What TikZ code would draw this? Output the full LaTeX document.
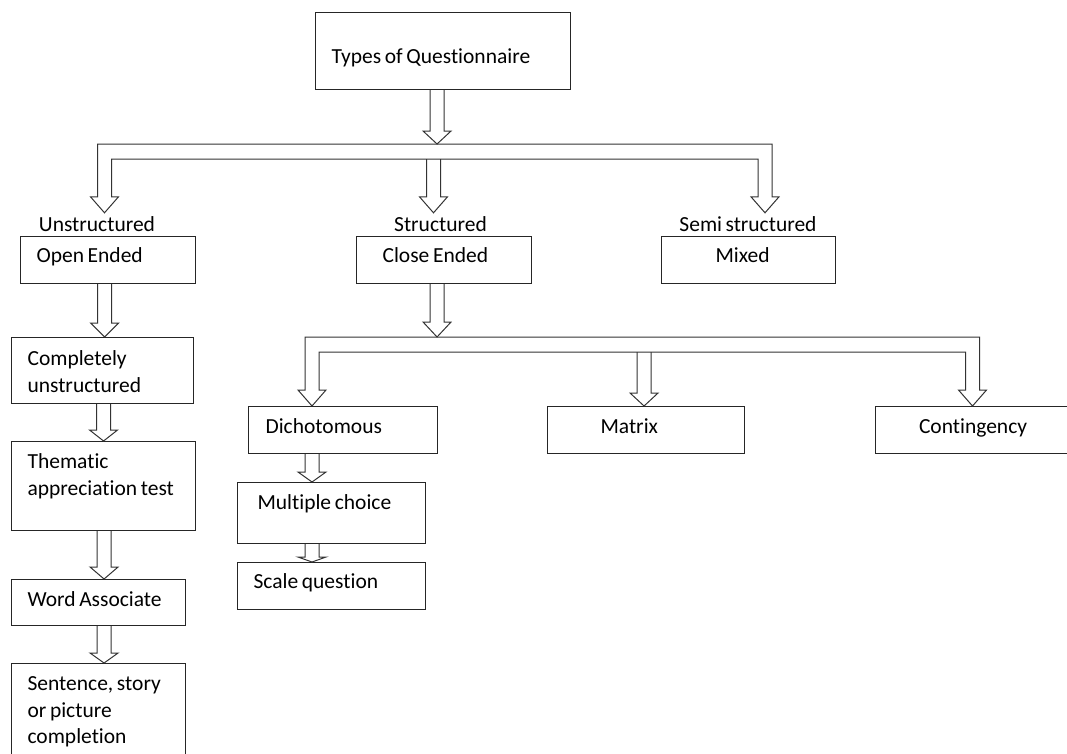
\documentclass[tikz,border=0pt]{standalone}
\usepackage{fontspec}
\setmainfont{Carlito}[WordSpace=0.7,Ligatures=NoCommon]
\usetikzlibrary{calc,positioning}

% hollow block arrow, its shaft at the x of #3, from the y of #2 down to the y of #3
\newcommand{\hollowarrow}[3][13pt]{%
  \draw[blockline] let \p1=(#2), \p2=(#3) in
    (\x2-7pt,\y1) -- (\x2-7pt,\y2+#1) -- (\x2-14pt,\y2+#1) -- (\x2,\y2)
    -- (\x2+14pt,\y2+#1) -- (\x2+7pt,\y2+#1) -- (\x2+7pt,\y1);}

% hollow bar with an arrow down at each end (#1 left end, #2 right end, #3 tip)
\newcommand{\branchbar}[3]{%
  \draw[blockline] let \p1=(#1), \p2=(#2), \p3=(#3) in
    (\x1-7pt,\y1) -- (\x1-7pt,\y3+16pt) -- (\x1-14pt,\y3+16pt) -- (\x1,\y3)
    -- (\x1+14pt,\y3+16pt) -- (\x1+7pt,\y3+16pt) -- (\x1+7pt,\y1-15pt)
    -- (\x2-7pt,\y1-15pt) -- (\x2-7pt,\y3+16pt) -- (\x2-14pt,\y3+16pt) -- (\x2,\y3)
    -- (\x2+14pt,\y3+16pt) -- (\x2+7pt,\y3+16pt) -- (\x2+7pt,\y1) -- cycle;}

\begin{document}
\begin{tikzpicture}[x=1pt,y=-1pt,font=\fontsize{21.5}{26.5}\selectfont]

\tikzset{qbox/.style={draw=black!85,line width=1.1pt,anchor=north west,inner xsep=16pt,inner ysep=0pt,align=left,text height=13pt,text depth=8pt,
  execute at begin node={\spaceskip=0.17em plus 0.05em\relax}},
typelabel/.style={anchor=base,inner sep=4pt,text height=14pt,text depth=4pt},
blockline/.style={draw=black!80,line width=1pt,line join=miter}}

\useasboundingbox (0,0) rectangle (1067,753);

% root
\node (top) [qbox,minimum width=255pt,minimum height=77pt,text width=223pt,text height=30pt,text depth=5pt] at (315,12) {Types of Questionnaire};

% first level
\node (unstr) [typelabel] at (97,231) {Unstructured};
\node (struct) [typelabel] at (440.5,231) {Structured};
\node (semi) [typelabel] at (748,231) {Semi structured};

\node (open) [qbox,minimum width=175pt,minimum height=47pt,text width=143pt] at (20,236) {Open Ended};
\node (close) [qbox,minimum width=175pt,minimum height=47pt,inner xsep=26pt,text width=123pt] at (356,236) {Close Ended};
\node (mixed) [qbox,minimum width=174pt,minimum height=47pt,inner xsep=54pt,text width=66pt] at (661,236) {Mixed};

% open ended column
\node (compl) [qbox,minimum width=182pt,minimum height=66pt,text width=150pt,text depth=23pt] at (11,337) {Completely\\unstructured};
\node (them) [qbox,minimum width=184pt,minimum height=89pt,text width=152pt,text depth=48pt] at (11,441) {Thematic\\appreciation test};
\node (word) [qbox,minimum width=174pt,minimum height=46pt,text width=142pt,text depth=5pt] at (11,579) {Word Associate};
\node (sent) [qbox,minimum width=174pt,minimum height=110pt,text width=142pt,text height=27pt,text depth=83pt] at (11,663) {Sentence, story\\or picture\\completion};

% close ended row
\node (dicho) [qbox,minimum width=189pt,minimum height=47pt,inner xsep=17pt,text width=155pt,text depth=6pt] at (248,406) {Dichotomous};
\node (matrix) [qbox,minimum width=197pt,minimum height=47pt,inner xsep=53pt,text width=91pt,text depth=6pt] at (547,406) {Matrix};
\node (cont) [qbox,minimum width=195pt,minimum height=47pt,inner xsep=37.5pt,text width=120pt,text depth=6pt,align=center] at (875,406) {Contingency};
\node (multi) [qbox,minimum width=188pt,minimum height=61pt,inner xsep=20pt,text width=148pt,text depth=20pt] at (237,482) {Multiple choice};
\node (scale) [qbox,minimum width=188pt,minimum height=47pt,text width=156pt] at (237,562) {Scale question};

% bars
\coordinate (bar1L) at (104.5,144); \coordinate (bar1R) at (765,144);
\coordinate (bar2L) at (312,337); \coordinate (bar2R) at (972.5,337);

% arrows
\hollowarrow{top.south}{$(top.south |- bar1L)+(-6,0)$}
\branchbar{bar1L}{bar1R}{unstr.north}
\hollowarrow[16pt]{$(bar1L)+(0,15)$}{$(struct.north)+(-7,0)$}

\hollowarrow[14pt]{open.south}{$(compl.north)+(2,0)$}
\hollowarrow[11pt]{compl.south}{them.north}
\hollowarrow[12pt]{them.south}{$(word.north)+(5.5,0)$}
\hollowarrow[10pt]{word.south}{$(sent.north)+(5.5,0)$}

\hollowarrow[15pt]{close.south}{$(close.south |- bar2L)+(-7,0)$}
\branchbar{bar2L}{bar2R}{dicho.north}
\hollowarrow{$(bar2L)+(0,15)$}{$(matrix.north)+(-2,0)$}
\hollowarrow[10pt]{dicho.south}{multi.north -| bar2L}
\hollowarrow[5pt]{multi.south}{scale.north -| bar2L}

\end{tikzpicture}
\end{document}
